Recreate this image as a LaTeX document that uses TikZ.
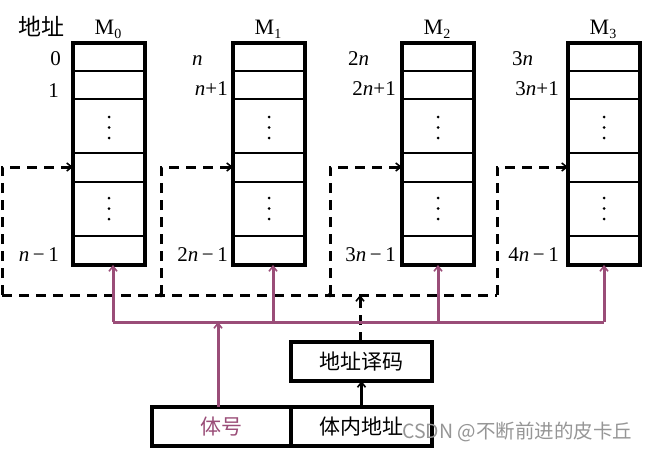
\documentclass[tikz,border=0pt]{standalone}
\usepackage{fontspec}
\setmainfont{Liberation Serif}
\newfontfamily\cjk{Noto Sans CJK SC}
\usetikzlibrary{arrows.meta,calc}
\definecolor{busc}{RGB}{154,77,120}
\definecolor{wmc}{RGB}{150,150,150}
\begin{document}
\begin{tikzpicture}[x=1pt,y=-1pt,
  membox/.style={draw,line width=3.2pt,minimum width=72pt,minimum height=222pt,inner sep=0pt,outer sep=0pt},
  rowline/.style={line width=2.8pt},
  blk/.style={draw,line width=3.2pt,minimum height=39pt,inner sep=0pt,outer sep=0pt,font=\cjk\fontsize{21}{21}\selectfont},
  lab/.style={inner sep=0pt,font=\fontsize{21}{21}\selectfont},
  title/.style={inner sep=0pt,font=\fontsize{22}{22}\selectfont,anchor=base},
  dsh/.style={line width=3pt,dash pattern=on 10pt off 7pt},
  dtip/.style={-{Straight Barb[length=5pt,width=8pt,line width=1.6pt]}},
  ptip/.style={-{Straight Barb[length=5pt,width=8pt,line width=1.6pt]}},
  pur/.style={line width=3pt,draw=busc},
  dot/.style={circle,fill=black,inner sep=0pt,minimum size=3pt},
  jdot/.style={circle,fill=black,inner sep=0pt,minimum size=4.5pt}]
\useasboundingbox[fill=white] (0,0) rectangle (650,452);

% memory modules
\foreach \n/\x in {0/73,1/233,2/402,3/568}{
  \node[membox] (m\n) at (\x+36,154) {};
  \foreach \yy in {71,99,153,182,236}{
    \draw[rowline] (\x,\yy) -- (\x+72,\yy);
  }
  \foreach \yy in {117,127.5,138,198,208.5,219}{
    \node[dot] at (\x+36,\yy) {};
  }
  \coordinate (in\n) at (\x,167);
  \coordinate (bot\n) at (\x+36,265);
}
\node[title] (t0) at (108,35) {M\raisebox{-0.35ex}{\fontsize{14}{14}\selectfont 0}};
\node[title] (t1) at (268,35) {M\raisebox{-0.35ex}{\fontsize{14}{14}\selectfont 1}};
\node[title] (t2) at (437,35) {M\raisebox{-0.35ex}{\fontsize{14}{14}\selectfont 2}};
\node[title] (t3) at (603,35) {M\raisebox{-0.35ex}{\fontsize{14}{14}\selectfont 3}};
\node[inner sep=0pt,font=\cjk\fontsize{23}{23}\selectfont] (addr) at (41,26) {地址};

% address labels
\node[lab,anchor=base east] (a00) at (61,66) {0};
\node[lab,anchor=base east] (a01) at (59,97) {1};
\node[lab,anchor=base east] (a0n) at (59,261) {\textit{n}\,−\,1};
\node[lab,anchor=base west] (a10) at (192,66) {\textit{n}};
\node[lab,anchor=base east] (a11) at (228,95) {\textit{n}+1};
\node[lab,anchor=base east] (a1n) at (228,261) {2\textit{n}\,−\,1};
\node[lab,anchor=base west] (a20) at (348,66) {2\textit{n}};
\node[lab,anchor=base east] (a21) at (396,95) {2\textit{n}+1};
\node[lab,anchor=base east] (a2n) at (396,261) {3\textit{n}\,−\,1};
\node[lab,anchor=base west] (a30) at (512,66) {3\textit{n}};
\node[lab,anchor=base east] (a31) at (559,95) {3\textit{n}+1};
\node[lab,anchor=base east] (a3n) at (559,261) {4\textit{n}\,−\,1};

% blocks
\node[blk,minimum width=139pt,text=busc] (tihao) at (221.5,426.5) {体号};
\node[blk,minimum width=141pt] (tinei) at (361.5,426.5) {体内地址};
\node[blk,minimum width=141pt] (dec) at (361.5,361.5) {地址译码};

% dashed select network
\coordinate (c0) at (2,295);
\coordinate (c1) at (161,295);
\coordinate (c2) at (330,295);
\coordinate (c3) at (497,295);
\coordinate (decin) at (360,295);
\draw[dsh] (c0) -- (c3);
\draw[dsh,dtip] (c0) |- (in0);
\draw[dsh,dtip] (c1) |- (in1);
\draw[dsh,dtip] (c2) |- (in2);
\draw[dsh,dtip] (c3) |- (in3);
\node[jdot] at (c1) {};
\node[jdot] at (c2) {};
\draw[dsh,dtip] (dec.north -| decin) -- (decin);
\draw[line width=2.8pt,-{Straight Barb[length=5pt,width=8pt,line width=1.6pt]}] (tinei.north -| dec.south) -- (dec.south);

% purple bus
\coordinate (b0) at (113,322);
\coordinate (b1) at (273,322);
\coordinate (b2) at (438,322);
\coordinate (b3) at (604,322);
\coordinate (bt) at (218,322);
\draw[pur] (b0) -- (b3);
\draw[pur,ptip] (b0) -- (bot0 -| b0);
\draw[pur,ptip] (b1) -- (bot1 -| b1);
\draw[pur,ptip] (b2) -- (bot2 -| b2);
\draw[pur,ptip] (b3) -- (bot3 -| b3);
\draw[pur,ptip] (tihao.north -| bt) -- (bt);

% watermark
\node[anchor=west,inner sep=0pt,text=wmc,font=\cjk\fontsize{19.5}{19.5}\selectfont] (wm) at (402,432) {CSDN @不断前进的皮卡丘};
\end{tikzpicture}
\end{document}
